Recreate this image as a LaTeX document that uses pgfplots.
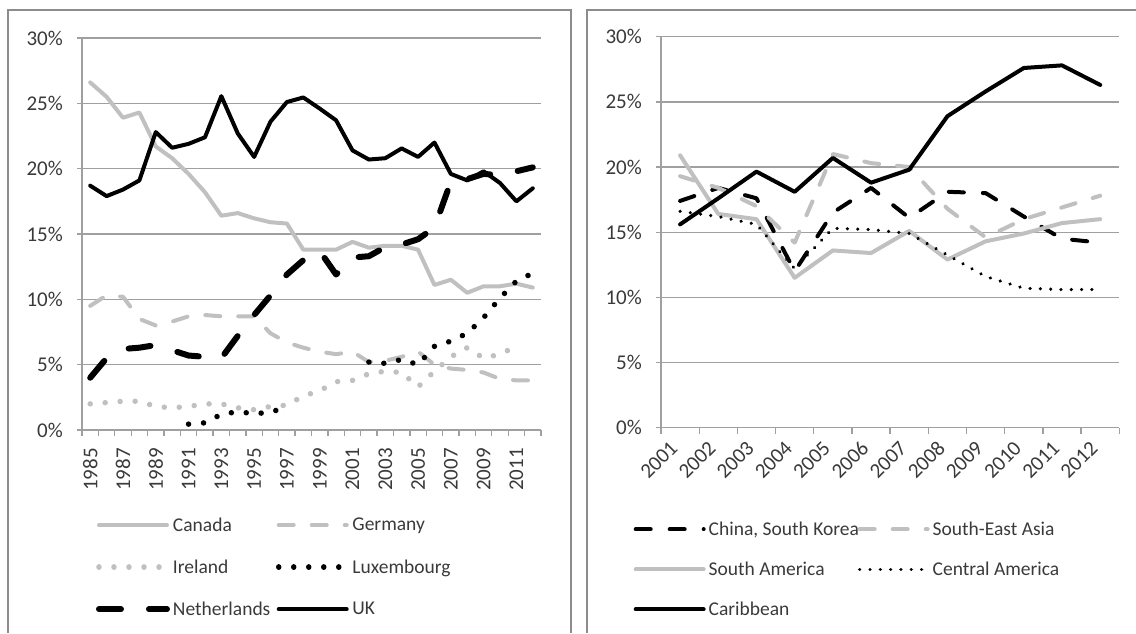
\documentclass[border=0pt]{standalone}
\usepackage{fontspec}
\setmainfont{Carlito}
\usepackage{pgfplots}
\usepackage{pgfplotstable}
\pgfplotsset{compat=1.18}

\definecolor{txt}{HTML}{3A3A3A}
\definecolor{axgray}{HTML}{A0A0A0}
\definecolor{frame}{HTML}{8C8C8C}
\definecolor{lgray}{HTML}{C0C0C0}

\pgfplotstableread{
year Canada Germany Ireland Lux Neth UK
1985 26.6 9.5 2.0 nan 4.0 18.7
1986 25.5 10.3 2.1 nan 5.5 17.9
1987 23.9 10.2 2.2 nan 6.2 18.4
1988 24.3 8.5 2.2 nan 6.3 19.1
1989 21.7 8.0 1.8 nan 6.5 22.8
1990 20.8 8.3 1.7 nan 6.1 21.6
1991 19.6 8.7 1.8 0.45 5.7 21.9
1992 18.2 8.8 2.0 0.55 5.6 22.4
1993 16.4 8.7 2.0 1.2 5.5 25.55
1994 16.6 8.7 1.7 1.4 7.2 22.7
1995 16.2 8.7 1.55 1.25 8.8 20.9
1996 15.9 7.4 1.8 1.35 10.3 23.6
1997 15.8 6.7 1.9 1.8 11.9 25.1
1998 13.8 6.3 2.6 nan 13.0 25.45
1999 13.8 6.0 3.0 nan 13.7 24.6
2000 13.8 5.8 3.7 nan 11.9 23.7
2001 14.4 6.0 3.8 nan 13.2 21.4
2002 13.95 5.2 4.3 5.2 13.3 20.7
2003 14.1 5.3 4.5 5.1 14.0 20.8
2004 14.1 5.6 4.4 5.4 14.2 21.55
2005 13.8 6.0 3.3 5.0 14.6 20.9
2006 11.1 5.0 4.5 6.4 15.5 22.0
2007 11.5 4.7 5.6 6.8 19.0 19.6
2008 10.5 4.6 6.3 7.4 19.2 19.1
2009 11.0 4.4 5.5 8.6 19.6 19.8
2010 11.0 3.9 5.8 10.1 19.5 18.9
2011 11.2 3.8 6.4 11.4 19.8 17.5
2012 10.9 3.8 nan 12.0 20.1 18.5
}\lefttable

\pgfplotstableread{
year China SEAsia SAmerica CAmerica Caribbean
2001 17.4 19.3 20.9 16.6 15.6
2002 18.4 18.4 16.4 16.2 17.6
2003 17.6 17.0 16.0 15.6 19.65
2004 12.0 14.2 11.5 12.2 18.1
2005 16.5 21.0 13.6 15.3 20.7
2006 18.4 20.3 13.4 15.2 18.8
2007 16.1 20.0 15.1 14.9 19.8
2008 18.1 16.8 12.9 13.25 23.9
2009 18.0 14.6 14.3 11.6 25.8
2010 16.2 16.0 14.9 10.7 27.6
2011 14.5 16.9 15.7 10.6 27.8
2012 14.2 17.8 16.0 10.6 26.3
}\righttable

\newcommand{\tfont}{\fontsize{21}{25}\selectfont}

\pgfplotsset{
  panel/.style={
    scale only axis, anchor=south west,
    /pgf/number format/assume math mode=true,
    /pgf/number format/1000 sep={},
    ymin=0, ymax=30, ytick={0,5,...,30},
    yticklabel={\tfont\pgfmathprintnumber{\tick}\%},
    xticklabel={\tfont\pgfmathprintnumber{\tick}},
    axis x line*=bottom, axis y line*=left,
    axis line style={draw=axgray, line width=1.3pt, -},
    ymajorgrids, grid style={draw=axgray, line width=1.3pt},
    tick align=outside, major tick length=5pt, minor tick length=6pt,
    tick style={draw=axgray, line width=1.3pt},
    major x tick style={draw=none},
    xtick pos=bottom, ytick pos=left,
    tick label style={font=\tfont, text=txt, inner sep=0pt},
    yticklabel shift=14pt,
    unbounded coords=jump,
    legend columns=2,
    legend style={draw=none, fill=none, inner sep=0pt,
      font=\fontsize{19.5}{23}\selectfont, text=txt,
      /tikz/every odd column/.style={column sep=1pt}},
    legend image code/.code={\draw[##1] (0pt,0pt) -- (68pt,0pt);},
    every axis plot/.append style={line cap=round, line join=round, no markers},
  },
  lsolid/.style={draw=lgray, line width=4pt},
  ldash/.style={draw=lgray, line width=4pt, dash pattern=on 15pt off 18pt},
  ldot/.style={draw=lgray, line width=5.5pt, dash pattern=on 0.01pt off 15pt},
  bdot/.style={draw=black, line width=5.5pt, dash pattern=on 0.01pt off 15pt},
  bbigdash/.style={draw=black, line width=6pt, dash pattern=on 22pt off 28pt},
  bsolid/.style={draw=black, line width=4pt},
  bdash/.style={draw=black, line width=4pt, dash pattern=on 15pt off 19pt},
  bsmalldot/.style={draw=black, line width=3.5pt, dash pattern=on 0.01pt off 10.3pt},
}

\begin{document}
\begin{tikzpicture}
\useasboundingbox (0pt,0pt) rectangle (1136pt,633pt);
\draw[frame, line width=1.6pt] (8pt,0pt) -- (8pt,623pt) -- (571pt,623pt) -- (571pt,0pt);
\draw[frame, line width=1.6pt] (587pt,0pt) -- (587pt,623pt) -- (1136pt,623pt);

\begin{axis}[panel, at={(82pt,203pt)}, width=459pt, height=392pt,
  xmin=1984.5, xmax=2012.5,
  xtick={1985,1987,...,2011},
  minor xtick={1984.5,1985.5,...,2012.5},
  xticklabel style={rotate=90, anchor=east},
  xticklabel shift=13pt,
  legend style={at={(axis description cs:0.030,-0.218)}, anchor=north west, row sep=23pt},
]
\addplot[lsolid] table[x=year, y=Canada] {\lefttable};
\addlegendentry{\makebox[101pt][l]{Canada}}
\addplot[ldash] table[x=year, y=Germany] {\lefttable};
\addlegendentry{\makebox[101pt][l]{Germany}}
\addplot[ldot] table[x=year, y=Ireland] {\lefttable};
\addlegendentry{\makebox[101pt][l]{Ireland}}
\addplot[bdot] table[x=year, y=Lux] {\lefttable};
\addlegendentry{\makebox[101pt][l]{Luxembourg}}
\addplot[bbigdash] table[x=year, y=Neth] {\lefttable};
\addlegendentry{\makebox[101pt][l]{Netherlands}}
\addplot[bsolid] table[x=year, y=UK] {\lefttable};
\addlegendentry{\makebox[101pt][l]{UK}}
\end{axis}

\begin{axis}[panel, at={(661pt,205.3pt)}, width=458.3pt, height=391pt,
  xmin=2000.5, xmax=2012.5,
  xtick={2001,2002,...,2012},
  minor xtick={2000.5,2001.5,...,2012.5},
  xticklabel style={xshift=-6pt, yshift=-2pt, rotate=45, anchor=east},
  xticklabel shift=10pt,
  legend style={at={(axis description cs:-0.060,-0.235)}, anchor=north west, row sep=21pt},
]
\addplot[bdash] table[x=year, y=China] {\righttable};
\addlegendentry{\makebox[147pt][l]{China, South Korea}}
\addplot[ldash] table[x=year, y=SEAsia] {\righttable};
\addlegendentry{\makebox[147pt][l]{South-East Asia}}
\addplot[lsolid] table[x=year, y=SAmerica] {\righttable};
\addlegendentry{\makebox[147pt][l]{South America}}
\addplot[bsmalldot] table[x=year, y=CAmerica] {\righttable};
\addlegendentry{\makebox[147pt][l]{Central America}}
\addplot[bsolid] table[x=year, y=Caribbean] {\righttable};
\addlegendentry{\makebox[147pt][l]{Caribbean}}
\end{axis}
\end{tikzpicture}
\end{document}
